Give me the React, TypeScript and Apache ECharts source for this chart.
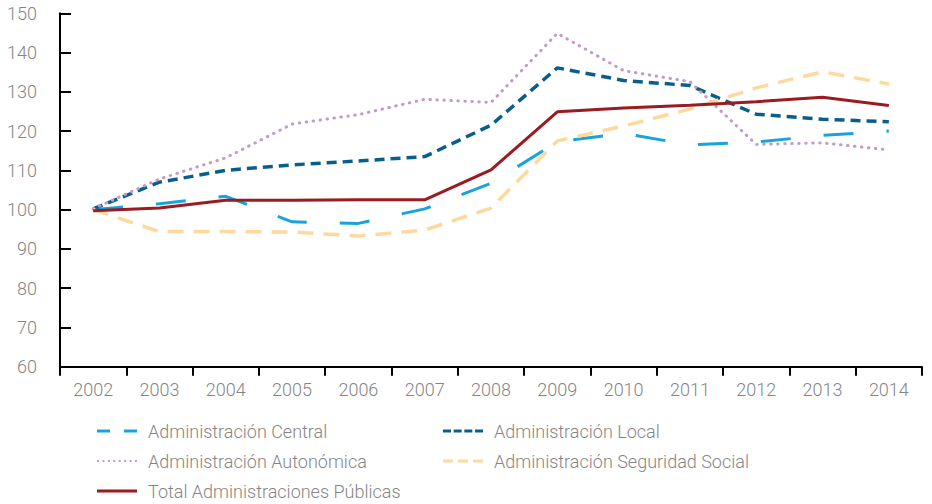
import React, { useEffect, useRef } from "react";
import * as echarts from "echarts";

const years = ["2002", "2003", "2004", "2005", "2006", "2007", "2008", "2009", "2010", "2011", "2012", "2013", "2014"];
const central = [100, 101.5, 103.4, 96.9, 96.5, 100.2, 106.7, 117.3, 119.4, 116.5, 117.2, 118.9, 120.0];
const local = [100.2, 107.0, 110.0, 111.4, 112.4, 113.5, 121.5, 136.1, 132.9, 131.6, 124.3, 123.0, 122.4];
const autonomica = [100.2, 107.8, 113.2, 121.8, 124.2, 128.1, 127.3, 144.9, 135.4, 132.6, 116.6, 117.0, 115.2];
const seguridad = [100, 94.4, 94.4, 94.3, 93.3, 94.8, 100.4, 117.5, 121.3, 125.6, 131.0, 135.1, 132.0];
const total = [99.7, 100.4, 102.4, 102.4, 102.5, 102.5, 110.1, 124.9, 125.9, 126.6, 127.5, 128.6, 126.5];

const names = [
  "Administración Central",
  "Administración Local",
  "Administración Autonómica",
  "Administración Seguridad Social",
  "Total Administraciones Públicas",
];

const FONT = "Roboto";
const GREY = "#858585";

const dotsPath = (() => {
  let p = "";
  for (let i = 0; i < 8; i++) {
    const x = i * 5.43;
    p += `M${x.toFixed(2)} 0H${(x + 2).toFixed(2)}V2H${x.toFixed(2)}Z`;
  }
  return "path://" + p;
})();

const icons = [
  "path://M0 0H13V3H0Z M27 0H40V3H27Z",
  "path://M0 0H8V3H0Z M10.67 0H18.67V3H10.67Z M21.33 0H29.33V3H21.33Z M32 0H40V3H32Z",
  dotsPath,
  "path://M0 0H10V3H0Z M15 0H25V3H15Z M30 0H40V3H30Z",
  "path://M0 0H40V3H0Z",
];
const iconH = [3, 3, 2, 3, 3];

export default function App() {
  const ref = useRef<HTMLDivElement>(null);
  useEffect(() => {
    if (!ref.current) return;
    const chart = echarts.init(ref.current, undefined, { renderer: "svg" });
    const legendPos = [
      { left: 97, top: 421 },
      { left: 443, top: 421 },
      { left: 97, top: 451 },
      { left: 443, top: 451 },
      { left: 97, top: 481 },
    ];
    const mkSeries = (name: string, data: number[], color: string, width: number, type: any, cap: any = "butt") => ({
      name,
      type: "line",
      data,
      symbol: "none",
      showSymbol: false,
      lineStyle: { color, width, type, cap },
      itemStyle: { color },
    });
    chart.setOption({
      animation: false,
      grid: { left: 60, right: 10, top: 13.3, bottom: 137.3, containLabel: false },
      legend: names.map((n, i) => ({
        data: [{ name: n, icon: icons[i] }],
        left: legendPos[i].left,
        top: legendPos[i].top,
        padding: 0,
        itemWidth: 40,
        itemHeight: iconH[i],
        textStyle: { fontFamily: FONT, fontWeight: 300, fontSize: 18, color: GREY, lineHeight: 20, padding: [0, 0, 0, 6] },
      })),
      xAxis: {
        type: "category",
        data: years,
        boundaryGap: true,
        axisLine: { lineStyle: { color: "#000", width: 2 } },
        axisTick: { show: true, length: 9, inside: false, lineStyle: { color: "#000", width: 2 } },
        axisLabel: { color: GREY, fontFamily: FONT, fontWeight: 300, fontSize: 18, margin: 14 },
        splitLine: { show: false },
      },
      yAxis: {
        type: "value",
        min: 60,
        max: 150,
        interval: 10,
        axisLine: { show: true, lineStyle: { color: "#000", width: 2 } },
        axisTick: { show: true, inside: true, length: 11, lineStyle: { color: "#000", width: 2 } },
        axisLabel: { color: GREY, fontFamily: FONT, fontWeight: 300, fontSize: 18, margin: 23 },
        splitLine: { show: false },
      },
      series: [
        mkSeries(names[0], central, "#18a3e0", 3, [30, 33]),
        mkSeries(names[1], local, "#0a5f8a", 3.5, [10, 6]),
        mkSeries(names[2], autonomica, "#c29bc6", 3, [0.5, 6.5], "round"),
        mkSeries(names[3], seguridad, "#fdd9a0", 3.5, [16, 10]),
        mkSeries(names[4], total, "#9a1b20", 3, "solid"),
      ],
    });
    return () => chart.dispose();
  }, []);
  return <div ref={ref} style={{ width: 932, height: 504, position: "absolute", left: 0, top: 0 }} />;
}
